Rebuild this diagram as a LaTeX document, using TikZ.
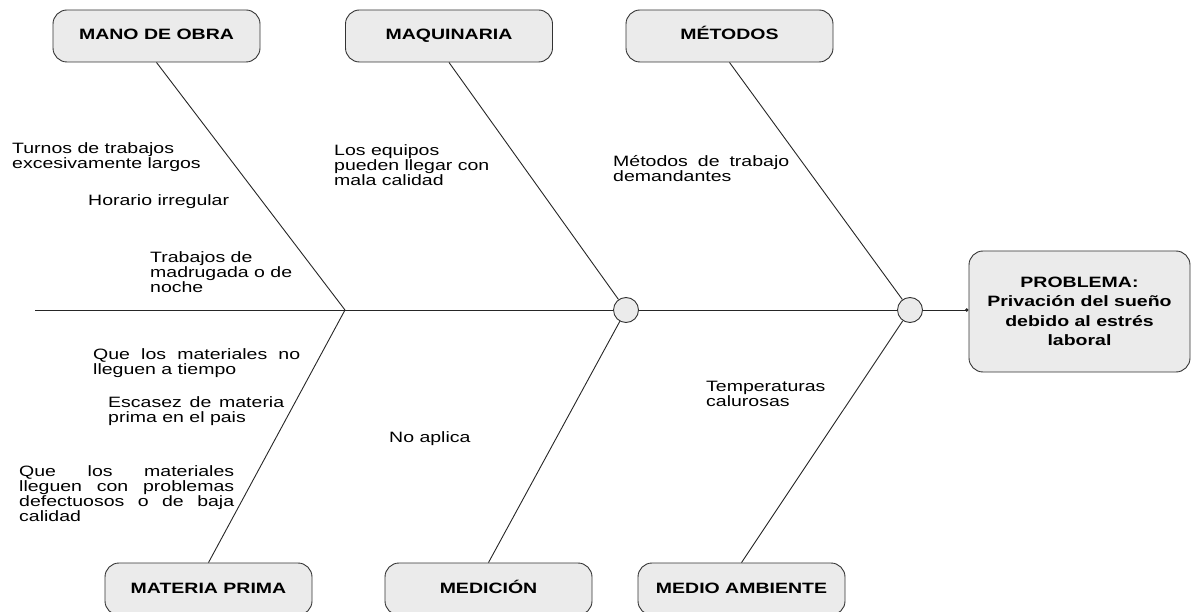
\documentclass[tikz,border=0pt]{standalone}
\usepackage{fontspec}
\setmainfont{Liberation Sans}[FakeStretch=1.3]
\usetikzlibrary{arrows.meta}

\newcommand\fishfont{\fontsize{15}{15}\selectfont}

\begin{document}
\begin{tikzpicture}[x=1pt,y=-1pt,
    cause/.style={draw=black!80,fill=black!8,rounded corners=14pt,line width=0.9pt,
      minimum width=207pt,minimum height=52pt,text height=11pt,text depth=3pt,font=\fishfont\bfseries},
    joint/.style={circle,draw=black!80,fill=black!8,line width=0.9pt,minimum size=25pt,inner sep=0pt},
    note/.style={anchor=north west,inner sep=0pt,align=left,font=\fishfont},
    jnote/.style={note,align=justify,text width=#1}]
      \useasboundingbox (0,0) rectangle (1194,612);
      % categories
      \begin{scope}
        \node[cause] (MO) at (156.5,36) {MANO DE OBRA};
        \node[cause] (MQ) at (449,36) {MAQUINARIA};
        \node[cause] (MT) at (729.5,36) {MÉTODOS};
        \node[cause] (MP) at (208.5,589) {MATERIA PRIMA};
        \node[cause] (MD) at (488.5,589) {MEDICIÓN};
        \node[cause] (MA) at (741.5,589) {MEDIO AMBIENTE};
      \end{scope}
      % spine
      \coordinate (S) at (35,310);
      \coordinate (J) at (345,310);
      \node[joint] (C1) at (626,310) {};
      \node[joint] (C2) at (910,310) {};
      \node[draw=black!80,fill=black!8,rounded corners=14pt,line width=0.9pt,
        minimum width=221pt,minimum height=121pt,align=center,
        font=\fontsize{15}{19.5}\selectfont\bfseries] (P) at (1079.5,311.5)
        {PROBLEMA:\\Privación del sueño\\debido al estrés\\laboral};
      \begin{scope}[every edge/.style={draw=black!85,line width=0.9pt}]
        \path (S) edge (J);
        \path (J) edge (C1);
        \path (C1) edge (C2);
        \path (C2) edge[-{Circle[length=3.5pt]}] (C2 -| P.west);
        \path (MO.south) edge (J);
        \path (MP.north) edge (J);
        \path (MQ.south) edge (C1);
        \path (MD.north) edge (C1);
        \path (MT.south) edge (C2);
        \path (MA.north) edge (C2);
      \end{scope}
      % causes
      \node[note] (T1) at (12,142) {Turnos de trabajos\\excesivamente largos};
      \node[note] (T2) at (88,194) {Horario irregular};
      \node[note] (T3) at (150,251) {Trabajos de\\madrugada o de\\noche};
      \node[note] (Q1) at (334,144) {Los equipos\\pueden llegar con\\mala calidad};
      \node[jnote=176pt] (M1) at (613,155) {Métodos de trabajo\linebreak demandantes};
      \node[jnote=207pt] (R1) at (93,348) {Que los materiales no\linebreak lleguen a tiempo};
      \node[jnote=176pt] (R2) at (108,396) {Escasez de materia\linebreak prima en el pais};
      \node[jnote=215pt] (R3) at (19,465) {Que los materiales\linebreak lleguen con problemas\linebreak defectuosos o de baja\linebreak calidad};
      \node[note] (D1) at (389,431) {No aplica};
      \node[note] (A1) at (706,381) {Temperaturas\\calurosas};
    \end{tikzpicture}
\end{document}
